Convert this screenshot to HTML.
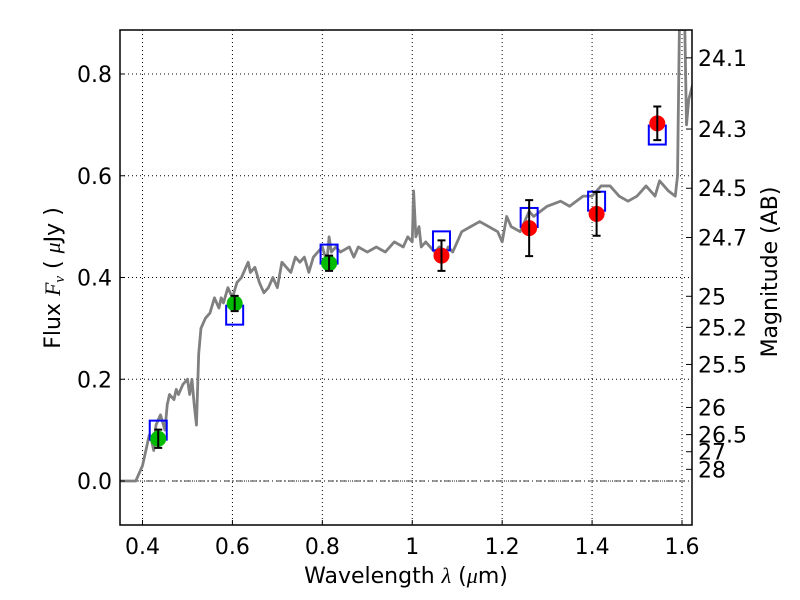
<!DOCTYPE html>
<html><head><meta charset="utf-8"><style>
body{margin:0;background:#fff}
svg{display:block;font-family:"DejaVu Sans","Liberation Sans",sans-serif}
</style></head><body>
<svg id="c" width="800" height="600" xmlns="http://www.w3.org/2000/svg">
<rect width="800" height="600" fill="#fff"/>
<g id="grid"></g>
<g id="plot"></g>
<rect x="120" y="30" width="572" height="495" fill="none" stroke="#000" stroke-width="1.5"/>
<g id="ticks"></g>
<text x="406" y="583" font-size="22" text-anchor="middle">Wavelength  <tspan font-style="italic" font-family="Liberation Serif, serif">λ</tspan> (<tspan font-style="italic" font-family="Liberation Serif, serif">μ</tspan>m)</text>
<text transform="translate(60,278) rotate(-90)" font-size="22" text-anchor="middle">Flux  <tspan font-style="italic" font-family="Liberation Serif, serif">F<tspan font-size="15" dy="4">ν</tspan></tspan><tspan dy="-4">  ( </tspan><tspan font-style="italic" font-family="Liberation Serif, serif">μ</tspan>Jy )</text>
<text transform="translate(777,272) rotate(-90)" font-size="22" text-anchor="middle">Magnitude (AB)</text>
</svg>
<script>
const specX=[0.35,0.385,0.40,0.415,0.42,0.425,0.43,0.44,0.45,0.455,0.46,0.47,0.475,0.48,0.49,0.5,0.505,0.51,0.515,0.52,0.525,0.53,0.54,0.55,0.56,0.57,0.575,0.58,0.59,0.6,0.61,0.62,0.635,0.64,0.65,0.66,0.67,0.68,0.69,0.7,0.71,0.72,0.73,0.74,0.75,0.76,0.77,0.78,0.79,0.80,0.81,0.815,0.82,0.83,0.84,0.86,0.87,0.88,0.9,0.92,0.94,0.96,0.98,0.99,1.0,1.003,1.008,1.015,1.02,1.03,1.05,1.06,1.07,1.08,1.09,1.1,1.11,1.13,1.15,1.17,1.19,1.2,1.21,1.22,1.24,1.26,1.27,1.3,1.33,1.35,1.38,1.4,1.42,1.44,1.46,1.48,1.5,1.51,1.52,1.54,1.55,1.57,1.585,1.59,1.595,1.6,1.605,1.61,1.615,1.624];
const specY=[0,0,0.03,0.09,0.08,0.06,0.11,0.13,0.10,0.15,0.17,0.16,0.18,0.17,0.19,0.20,0.17,0.20,0.15,0.11,0.25,0.30,0.32,0.33,0.36,0.34,0.36,0.35,0.38,0.36,0.39,0.40,0.43,0.41,0.42,0.39,0.37,0.38,0.40,0.38,0.43,0.42,0.41,0.44,0.43,0.44,0.41,0.44,0.45,0.46,0.43,0.48,0.45,0.46,0.45,0.46,0.44,0.46,0.45,0.46,0.45,0.47,0.46,0.48,0.47,0.57,0.48,0.50,0.46,0.47,0.45,0.46,0.44,0.46,0.45,0.47,0.49,0.50,0.51,0.50,0.49,0.47,0.52,0.50,0.49,0.53,0.52,0.54,0.55,0.54,0.56,0.56,0.58,0.58,0.56,0.55,0.56,0.57,0.58,0.56,0.59,0.57,0.56,0.60,0.95,0.90,0.95,0.70,0.75,0.78];
const greenX=[0.435,0.605,0.815];
const greenY=[0.083,0.349,0.428];
const greenErr=[0.018,0.015,0.015];
const redX=[1.065,1.26,1.41,1.545];
const redY=[0.443,0.497,0.525,0.703];
const redErr=[0.03,0.055,0.043,0.033];
const boxX=[0.435,0.605,0.815,1.065,1.26,1.41,1.545];
const boxY=[0.100,0.326,0.446,0.472,0.518,0.550,0.680];
const xTicks=[0.4,0.6,0.8,1.0,1.2,1.4,1.6];
const xTickLabels=["0.4","0.6","0.8","1","1.2","1.4","1.6"];
const yTicks=[0,0.2,0.4,0.6,0.8];
const yTickLabels=["0.0","0.2","0.4","0.6","0.8"];
const magTicks=[24.1,24.3,24.5,24.7,25,25.2,25.5,26,26.5,27,28];
const magLabels=["24.1","24.3","24.5","24.7","25","25.2","25.5","26","26.5","27","28"];

const NS="http://www.w3.org/2000/svg";
const L=120,R=692,T=30,B=525;
const X=v=>142.5+(v-0.4)*449.6;
const Y=v=>481-v*508.75;
function mk(tag,at,parent){const e=document.createElementNS(NS,tag);for(const k in at)e.setAttribute(k,at[k]);parent.appendChild(e);return e;}
const grid=document.getElementById('grid'),plot=document.getElementById('plot'),ticks=document.getElementById('ticks');
xTicks.forEach((v,i)=>{
 const g=mk('line',{x1:X(v),x2:X(v),y1:T,y2:B,stroke:'#000','stroke-width':1,'stroke-dasharray':'1,3'},grid);
 
 
 const t=mk('line',{x1:X(v),x2:X(v),y1:B,y2:B-5,stroke:'#000'},ticks);
 
 
 const tx=mk('text',{x:X(v),y:B+29,'font-size':22,'text-anchor':'middle'},ticks);tx.textContent=xTickLabels[i];
 
 
});
yTicks.forEach((v,i)=>{
 const g=mk('line',{x1:L,x2:R,y1:Y(v),y2:Y(v),stroke:'#000','stroke-width':1,'stroke-dasharray':'1,3'},grid);
 
 
 const t=mk('line',{x1:L,x2:L+5,y1:Y(v),y2:Y(v),stroke:'#000'},ticks);
 
 
 const tx=mk('text',{x:L-8,y:Y(v)+8,'font-size':22,'text-anchor':'end'},ticks);tx.textContent=yTickLabels[i];
 
 
});
const zl=mk('line',{x1:L,x2:R,y1:Y(0),y2:Y(0),stroke:'#000','stroke-width':0.8,'stroke-dasharray':'6,3,1,3'},grid);


magTicks.forEach((m,i)=>{
 const f=Math.pow(10,(23.9-m)/2.5);const y=Y(f);
 const t=mk('line',{x1:R,x2:R-6,y1:y,y2:y,stroke:'#000'},ticks);
 
 
 const tx=mk('text',{x:R+6,y:y+8,'font-size':22},ticks);tx.textContent=magLabels[i];
 
 
});
mk('clipPath',{id:'cp'},document.getElementById('c'));
mk('rect',{x:L,y:T,width:R-L,height:B-T},document.getElementById('cp'));
plot.setAttribute('clip-path','url(#cp)');
const sp=mk('polyline',{points:specX.map((x,i)=>X(x)+','+Y(specY[i])).join(' '),fill:'none',stroke:'#808080','stroke-width':2.8,'stroke-linejoin':'round'},plot);


boxX.forEach((x,i)=>{
 const b=mk('rect',{x:X(x)-8.5,y:Y(boxY[i])-9.5,width:17,height:19,fill:'none',stroke:'#0000ff','stroke-width':2},plot);
 
 
});
function pts(xs,ys,es,col,name){xs.forEach((x,i)=>{
 const c=mk('circle',{cx:X(x),cy:Y(ys[i]),r:8,fill:col},plot);
 
 
 const y1=Y(ys[i]+es[i]),y2=Y(ys[i]-es[i]),cx=X(x);
 const e=mk('path',{d:`M${cx},${y1}V${y2}M${cx-4},${y1}H${cx+4}M${cx-4},${y2}H${cx+4}`,stroke:'#000','stroke-width':2,fill:'none'},plot);
 
 
});}
pts(greenX,greenY,greenErr,'#00bb00','observed-point-green');
pts(redX,redY,redErr,'#ff0000','observed-point-red');
</script>
</body></html>
